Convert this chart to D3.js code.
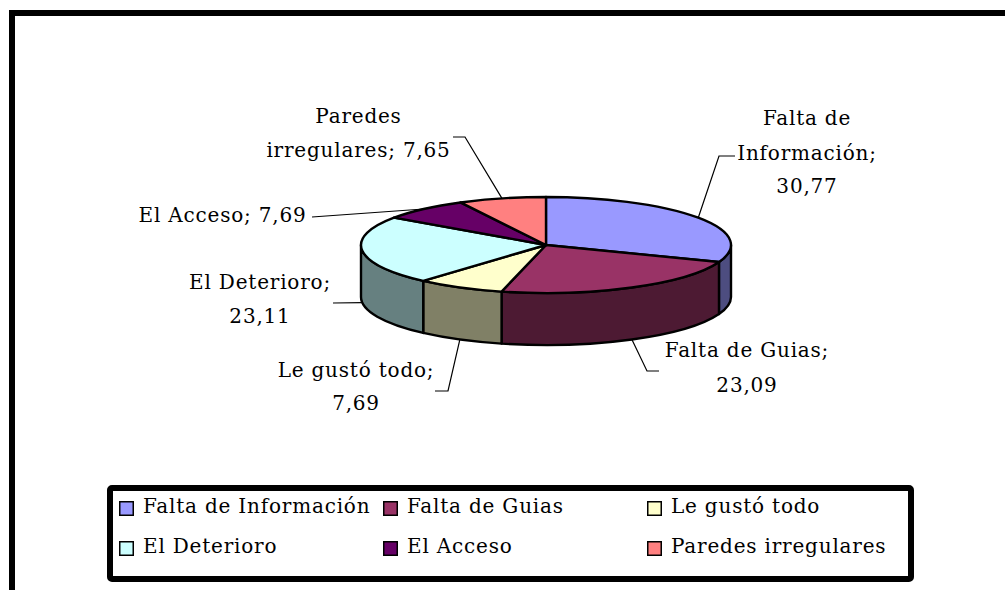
<!DOCTYPE html>
<html><head><meta charset="utf-8">
<script src="https://cdn.jsdelivr.net/npm/d3@7"></script>
<style>html,body{margin:0;padding:0;background:#fff}svg{display:block}
text{font-family:"DejaVu Serif",serif;font-size:20px;letter-spacing:.8px;fill:#000}</style></head>
<body><svg id="c" width="1005" height="590"></svg>
<script>
const categories=["Falta de Información","Falta de Guias","Le gustó todo","El Deterioro","El Acceso","Paredes irregulares"];
const values=[30.77,23.09,7.69,23.11,7.69,7.65];
const topColors=["#9999FF","#993366","#FFFFCC","#CCFFFF","#660066","#FF8080"];
const sideColors=["#4D4D80","#4D1A33","#808066","#668080","#330033","#804040"];
const labelLines=[["Falta de","Información;","30,77"],["Falta de Guias;","23,09"],["Le gustó todo;","7,69"],["El Deterioro;","23,11"],["El Acceso; 7,69"],["Paredes","irregulares; 7,65"]];
const labelPos=[{x:807,y:[125,160,193]},{x:747,y:[357,392]},{x:356,y:[377,410]},{x:260,y:[289,323]},{x:222.5,y:[222]},{x:358.5,y:[123,157]}];
const elbows=[[[735,156],[719,156]],[[659,371],[647,371]],[[435,391],[448,391]],[[333,303]],[[312,217]],[[453,137],[465,137]]];
const cx=546,cy=245,rx=185,ry=48,depth=52;
const svg=d3.select("#c");
svg.append("path").attr("d","M12 590V13H1005").attr("fill","none").attr("stroke","#000").attr("stroke-width",6);
const arcs=d3.pie().value(d=>d).sort(null)(values);
const px=a=>cx+rx*Math.sin(a), py=a=>cy-ry*Math.cos(a);
const walls=svg.append("g");
arcs.forEach((d,i)=>{
  const a0=Math.max(d.startAngle,Math.PI/2),a1=Math.min(d.endAngle,Math.PI*1.5);
  if(a1<=a0)return;
  const p=`M${px(a0)} ${py(a0)}A${rx} ${ry} 0 0 1 ${px(a1)} ${py(a1)}L${px(a1)} ${py(a1)+depth}A${rx} ${ry} 0 0 0 ${px(a0)} ${py(a0)+depth}Z`;
  walls.append("path").attr("d",p).attr("fill",sideColors[i]).attr("stroke","#000").attr("stroke-width",2.4).attr("stroke-linejoin","round");
});
const arc=d3.arc().innerRadius(0).outerRadius(rx);
const faces=svg.append("g").attr("transform",`translate(${cx},${cy}) scale(1,${ry/rx})`);
faces.selectAll("path").data(arcs).join("path").attr("d",arc).attr("fill",(d,i)=>topColors[i])
  .attr("stroke","#000").attr("stroke-width",2.4).attr("vector-effect","non-scaling-stroke").attr("stroke-linejoin","round");
arcs.forEach((d,i)=>{
  const m=(d.startAngle+d.endAngle)/2;
  const front=Math.cos(m)<0;
  const end=[px(m),py(m)+(front?depth:0)];
  svg.append("path").attr("d",d3.line()([...elbows[i],end])).attr("fill","none").attr("stroke","#000").attr("stroke-width",1.2);
});
labelLines.forEach((ls,i)=>ls.forEach((t,j)=>{
  svg.append("text").attr("x",labelPos[i].x).attr("y",labelPos[i].y[j]).attr("text-anchor","middle").text(t);
}));
svg.append("rect").attr("x",110).attr("y",488).attr("width",801).attr("height",91).attr("rx",2).attr("fill","#fff").attr("stroke","#000").attr("stroke-width",6);
const colX=[119,383,647],rowY=[501,541];
categories.forEach((c,i)=>{
  const x=colX[i%3],y=rowY[Math.floor(i/3)];
  svg.append("rect").attr("x",x+.75).attr("y",y+.75).attr("width",13.5).attr("height",13.5).attr("fill",topColors[i]).attr("stroke","#000").attr("stroke-width",1.5);
  svg.append("text").attr("x",x+24).attr("y",y+12).text(c);
});
</script></body></html>
